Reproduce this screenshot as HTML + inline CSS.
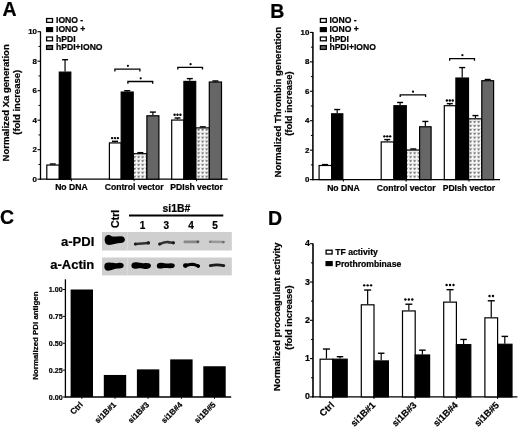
<!DOCTYPE html>
<html><head><meta charset="utf-8"><style>
html,body{margin:0;padding:0;background:#fff;}
svg{display:block;filter:blur(0.35px);}
text{font-family:"Liberation Sans", sans-serif;stroke:#000;stroke-width:0.22px;}
</style></head><body>
<svg width="520" height="430" viewBox="0 0 520 430" font-family='"Liberation Sans", sans-serif'>
<defs>
<pattern id="pat" x="0.7" y="-0.7" width="4" height="3.9" patternUnits="userSpaceOnUse">
<rect width="4" height="3.9" fill="#fff"/>
<path d="M0.9,0.7 L1.8,2.5 L2.9,0.6 M1.8,2.5 L1.8,3.1" fill="none" stroke="#444" stroke-width="0.9"/>
</pattern>
<filter id="bl" x="-20%" y="-50%" width="140%" height="200%"><feGaussianBlur stdDeviation="0.45"/></filter>
</defs>
<rect width="520" height="430" fill="#fff"/>
<text x="2.40" y="15.80" font-size="19.5" font-weight="bold" text-anchor="start">A</text>
<line x1="40.50" y1="31.40" x2="40.50" y2="179.80" stroke="#000" stroke-width="1.3"/>
<line x1="37.50" y1="179.20" x2="40.50" y2="179.20" stroke="#000" stroke-width="1.1"/>
<text x="37.00" y="181.70" font-size="7.9" font-weight="bold" text-anchor="end">0</text>
<line x1="38.50" y1="164.45" x2="40.50" y2="164.45" stroke="#000" stroke-width="1.0"/>
<line x1="37.50" y1="149.70" x2="40.50" y2="149.70" stroke="#000" stroke-width="1.1"/>
<text x="37.00" y="152.20" font-size="7.9" font-weight="bold" text-anchor="end">2</text>
<line x1="38.50" y1="134.95" x2="40.50" y2="134.95" stroke="#000" stroke-width="1.0"/>
<line x1="37.50" y1="120.20" x2="40.50" y2="120.20" stroke="#000" stroke-width="1.1"/>
<text x="37.00" y="122.70" font-size="7.9" font-weight="bold" text-anchor="end">4</text>
<line x1="38.50" y1="105.45" x2="40.50" y2="105.45" stroke="#000" stroke-width="1.0"/>
<line x1="37.50" y1="90.70" x2="40.50" y2="90.70" stroke="#000" stroke-width="1.1"/>
<text x="37.00" y="93.20" font-size="7.9" font-weight="bold" text-anchor="end">6</text>
<line x1="38.50" y1="75.95" x2="40.50" y2="75.95" stroke="#000" stroke-width="1.0"/>
<line x1="37.50" y1="61.20" x2="40.50" y2="61.20" stroke="#000" stroke-width="1.1"/>
<text x="37.00" y="63.70" font-size="7.9" font-weight="bold" text-anchor="end">8</text>
<line x1="38.50" y1="46.45" x2="40.50" y2="46.45" stroke="#000" stroke-width="1.0"/>
<line x1="37.50" y1="31.70" x2="40.50" y2="31.70" stroke="#000" stroke-width="1.1"/>
<text x="37.00" y="34.20" font-size="7.9" font-weight="bold" text-anchor="end">10</text>
<line x1="39.90" y1="179.20" x2="227.70" y2="179.20" stroke="#000" stroke-width="1.3"/>
<text x="8.70" y="102.85" font-size="9.55" font-weight="bold" text-anchor="middle" transform="rotate(-90 8.70 102.85)">Normalized Xa generation</text>
<text x="19.90" y="102.30" font-size="9.5" font-weight="bold" text-anchor="middle" transform="rotate(-90 19.90 102.30)">(fold increase)</text>
<rect x="46.60" y="18.55" width="5.90" height="3.80" fill="#fff" stroke="#000" stroke-width="1.3"/>
<text x="56.00" y="23.05" font-size="8.6" font-weight="bold" text-anchor="start">IONO -</text>
<rect x="46.60" y="27.70" width="5.90" height="3.80" fill="#000" stroke="#000" stroke-width="1.3"/>
<text x="56.00" y="32.20" font-size="8.6" font-weight="bold" text-anchor="start">IONO +</text>
<rect x="46.60" y="37.00" width="5.90" height="3.80" fill="#fff" stroke="#000" stroke-width="1.3"/>
<text x="56.00" y="41.50" font-size="8.6" font-weight="bold" text-anchor="start">hPDI</text>
<rect x="46.60" y="45.60" width="5.90" height="3.80" fill="#666" stroke="#000" stroke-width="1.3"/>
<text x="56.00" y="50.10" font-size="8.6" font-weight="bold" text-anchor="start">hPDI+IONO</text>
<line x1="52.75" y1="164.45" x2="52.75" y2="164.01" stroke="#000" stroke-width="1.2"/>
<line x1="49.75" y1="164.01" x2="55.75" y2="164.01" stroke="#000" stroke-width="1.4"/>
<rect x="46.80" y="165.05" width="12.50" height="14.15" fill="#fff" stroke="#000" stroke-width="1.2"/>
<line x1="65.05" y1="71.52" x2="65.05" y2="59.72" stroke="#000" stroke-width="1.2"/>
<line x1="62.05" y1="59.72" x2="68.05" y2="59.72" stroke="#000" stroke-width="1.4"/>
<rect x="59.30" y="72.12" width="11.50" height="107.08" fill="#000" stroke="#000" stroke-width="1.2"/>
<line x1="71.40" y1="179.20" x2="71.40" y2="181.20" stroke="#000" stroke-width="1.0"/>
<line x1="115.00" y1="142.32" x2="115.00" y2="141.29" stroke="#000" stroke-width="1.2"/>
<line x1="112.00" y1="141.29" x2="118.00" y2="141.29" stroke="#000" stroke-width="1.4"/>
<rect x="109.40" y="142.92" width="11.80" height="36.27" fill="#fff" stroke="#000" stroke-width="1.2"/>
<circle cx="112.10" cy="138.09" r="1.2" fill="#000"/>
<circle cx="115.00" cy="138.09" r="1.2" fill="#000"/>
<circle cx="117.90" cy="138.09" r="1.2" fill="#000"/>
<line x1="140.35" y1="153.09" x2="140.35" y2="152.65" stroke="#000" stroke-width="1.2"/>
<line x1="137.35" y1="152.65" x2="143.35" y2="152.65" stroke="#000" stroke-width="1.4"/>
<rect x="133.20" y="153.69" width="13.70" height="25.51" fill="url(#pat)" stroke="#000" stroke-width="1.2"/>
<line x1="152.90" y1="115.18" x2="152.90" y2="112.09" stroke="#000" stroke-width="1.2"/>
<line x1="149.90" y1="112.09" x2="155.90" y2="112.09" stroke="#000" stroke-width="1.4"/>
<rect x="146.90" y="115.78" width="12.00" height="63.41" fill="#666" stroke="#000" stroke-width="1.2"/>
<line x1="127.20" y1="91.44" x2="127.20" y2="90.70" stroke="#000" stroke-width="1.2"/>
<line x1="124.20" y1="90.70" x2="130.20" y2="90.70" stroke="#000" stroke-width="1.4"/>
<rect x="121.20" y="92.04" width="12.00" height="87.16" fill="#000" stroke="#000" stroke-width="1.2"/>
<line x1="134.15" y1="179.20" x2="134.15" y2="181.20" stroke="#000" stroke-width="1.0"/>
<line x1="177.50" y1="119.46" x2="177.50" y2="117.99" stroke="#000" stroke-width="1.2"/>
<line x1="174.50" y1="117.99" x2="180.50" y2="117.99" stroke="#000" stroke-width="1.4"/>
<rect x="171.70" y="120.06" width="12.20" height="59.14" fill="#fff" stroke="#000" stroke-width="1.2"/>
<circle cx="174.60" cy="114.79" r="1.2" fill="#000"/>
<circle cx="177.50" cy="114.79" r="1.2" fill="#000"/>
<circle cx="180.40" cy="114.79" r="1.2" fill="#000"/>
<line x1="202.80" y1="127.28" x2="202.80" y2="126.84" stroke="#000" stroke-width="1.2"/>
<line x1="199.80" y1="126.84" x2="205.80" y2="126.84" stroke="#000" stroke-width="1.4"/>
<rect x="195.70" y="127.88" width="13.60" height="51.32" fill="url(#pat)" stroke="#000" stroke-width="1.2"/>
<line x1="215.40" y1="81.41" x2="215.40" y2="80.96" stroke="#000" stroke-width="1.2"/>
<line x1="212.40" y1="80.96" x2="218.40" y2="80.96" stroke="#000" stroke-width="1.4"/>
<rect x="209.30" y="82.01" width="12.20" height="97.19" fill="#666" stroke="#000" stroke-width="1.2"/>
<line x1="189.80" y1="80.82" x2="189.80" y2="78.60" stroke="#000" stroke-width="1.2"/>
<line x1="186.80" y1="78.60" x2="192.80" y2="78.60" stroke="#000" stroke-width="1.4"/>
<rect x="183.90" y="81.42" width="11.80" height="97.78" fill="#000" stroke="#000" stroke-width="1.2"/>
<line x1="196.60" y1="179.20" x2="196.60" y2="181.20" stroke="#000" stroke-width="1.0"/>
<path d="M114.90,71.50 L114.90,69.10 L139.90,69.10 L139.90,71.50" fill="none" stroke="#000" stroke-width="1.3"/>
<circle cx="127.90" cy="65.80" r="1.1" fill="#000"/>
<path d="M127.90,83.70 L127.90,81.50 L152.70,81.50 L152.70,83.70" fill="none" stroke="#000" stroke-width="1.3"/>
<circle cx="140.70" cy="78.30" r="1.1" fill="#000"/>
<path d="M177.80,69.60 L177.80,67.40 L202.50,67.40 L202.50,69.60" fill="none" stroke="#000" stroke-width="1.3"/>
<circle cx="190.60" cy="64.20" r="1.1" fill="#000"/>
<text x="71.40" y="190.40" font-size="8.6" font-weight="bold" text-anchor="middle">No DNA</text>
<text x="134.15" y="190.40" font-size="8.6" font-weight="bold" text-anchor="middle">Control vector</text>
<text x="196.60" y="190.40" font-size="8.6" font-weight="bold" text-anchor="middle">PDIsh vector</text>
<text x="270.30" y="17.70" font-size="19.5" font-weight="bold" text-anchor="start">B</text>
<line x1="312.90" y1="32.10" x2="312.90" y2="180.20" stroke="#000" stroke-width="1.55"/>
<line x1="309.90" y1="179.60" x2="312.90" y2="179.60" stroke="#000" stroke-width="1.1"/>
<text x="309.40" y="182.10" font-size="7.9" font-weight="bold" text-anchor="end">0</text>
<line x1="310.90" y1="164.88" x2="312.90" y2="164.88" stroke="#000" stroke-width="1.0"/>
<line x1="309.90" y1="150.16" x2="312.90" y2="150.16" stroke="#000" stroke-width="1.1"/>
<text x="309.40" y="152.66" font-size="7.9" font-weight="bold" text-anchor="end">2</text>
<line x1="310.90" y1="135.44" x2="312.90" y2="135.44" stroke="#000" stroke-width="1.0"/>
<line x1="309.90" y1="120.72" x2="312.90" y2="120.72" stroke="#000" stroke-width="1.1"/>
<text x="309.40" y="123.22" font-size="7.9" font-weight="bold" text-anchor="end">4</text>
<line x1="310.90" y1="106.00" x2="312.90" y2="106.00" stroke="#000" stroke-width="1.0"/>
<line x1="309.90" y1="91.28" x2="312.90" y2="91.28" stroke="#000" stroke-width="1.1"/>
<text x="309.40" y="93.78" font-size="7.9" font-weight="bold" text-anchor="end">6</text>
<line x1="310.90" y1="76.56" x2="312.90" y2="76.56" stroke="#000" stroke-width="1.0"/>
<line x1="309.90" y1="61.84" x2="312.90" y2="61.84" stroke="#000" stroke-width="1.1"/>
<text x="309.40" y="64.34" font-size="7.9" font-weight="bold" text-anchor="end">8</text>
<line x1="310.90" y1="47.12" x2="312.90" y2="47.12" stroke="#000" stroke-width="1.0"/>
<line x1="309.90" y1="32.40" x2="312.90" y2="32.40" stroke="#000" stroke-width="1.1"/>
<text x="309.40" y="34.90" font-size="7.9" font-weight="bold" text-anchor="end">10</text>
<line x1="312.30" y1="179.60" x2="500.00" y2="179.60" stroke="#000" stroke-width="1.3"/>
<text x="281.00" y="102.20" font-size="9.62" font-weight="bold" text-anchor="middle" transform="rotate(-90 281.00 102.20)">Normalized Thrombin generation</text>
<text x="292.20" y="103.60" font-size="9.45" font-weight="bold" text-anchor="middle" transform="rotate(-90 292.20 103.60)">(fold increase)</text>
<rect x="320.40" y="18.55" width="5.90" height="3.80" fill="#fff" stroke="#000" stroke-width="1.3"/>
<text x="329.40" y="23.05" font-size="8.6" font-weight="bold" text-anchor="start">IONO -</text>
<rect x="320.40" y="27.70" width="5.90" height="3.80" fill="#000" stroke="#000" stroke-width="1.3"/>
<text x="329.40" y="32.20" font-size="8.6" font-weight="bold" text-anchor="start">IONO +</text>
<rect x="320.40" y="37.00" width="5.90" height="3.80" fill="#fff" stroke="#000" stroke-width="1.3"/>
<text x="329.40" y="41.50" font-size="8.6" font-weight="bold" text-anchor="start">hPDI</text>
<rect x="320.40" y="45.60" width="5.90" height="3.80" fill="#666" stroke="#000" stroke-width="1.3"/>
<text x="329.40" y="50.10" font-size="8.6" font-weight="bold" text-anchor="start">hPDI+IONO</text>
<line x1="325.05" y1="164.88" x2="325.05" y2="164.59" stroke="#000" stroke-width="1.2"/>
<line x1="322.05" y1="164.59" x2="328.05" y2="164.59" stroke="#000" stroke-width="1.4"/>
<rect x="319.10" y="165.48" width="12.50" height="14.12" fill="#fff" stroke="#000" stroke-width="1.2"/>
<line x1="337.20" y1="113.21" x2="337.20" y2="109.53" stroke="#000" stroke-width="1.2"/>
<line x1="334.20" y1="109.53" x2="340.20" y2="109.53" stroke="#000" stroke-width="1.4"/>
<rect x="331.60" y="113.81" width="11.20" height="65.79" fill="#000" stroke="#000" stroke-width="1.2"/>
<line x1="343.40" y1="179.60" x2="343.40" y2="181.60" stroke="#000" stroke-width="1.0"/>
<line x1="387.25" y1="141.33" x2="387.25" y2="139.56" stroke="#000" stroke-width="1.2"/>
<line x1="384.25" y1="139.56" x2="390.25" y2="139.56" stroke="#000" stroke-width="1.4"/>
<rect x="381.20" y="141.93" width="12.70" height="37.67" fill="#fff" stroke="#000" stroke-width="1.2"/>
<circle cx="384.35" cy="136.36" r="1.2" fill="#000"/>
<circle cx="387.25" cy="136.36" r="1.2" fill="#000"/>
<circle cx="390.15" cy="136.36" r="1.2" fill="#000"/>
<line x1="413.25" y1="149.42" x2="413.25" y2="148.98" stroke="#000" stroke-width="1.2"/>
<line x1="410.25" y1="148.98" x2="416.25" y2="148.98" stroke="#000" stroke-width="1.4"/>
<rect x="406.30" y="150.02" width="13.30" height="29.58" fill="url(#pat)" stroke="#000" stroke-width="1.2"/>
<line x1="425.35" y1="126.17" x2="425.35" y2="121.46" stroke="#000" stroke-width="1.2"/>
<line x1="422.35" y1="121.46" x2="428.35" y2="121.46" stroke="#000" stroke-width="1.4"/>
<rect x="419.60" y="126.77" width="11.50" height="52.83" fill="#666" stroke="#000" stroke-width="1.2"/>
<line x1="400.10" y1="105.12" x2="400.10" y2="102.47" stroke="#000" stroke-width="1.2"/>
<line x1="397.10" y1="102.47" x2="403.10" y2="102.47" stroke="#000" stroke-width="1.4"/>
<rect x="393.90" y="105.72" width="12.40" height="73.88" fill="#000" stroke="#000" stroke-width="1.2"/>
<line x1="406.15" y1="179.60" x2="406.15" y2="181.60" stroke="#000" stroke-width="1.0"/>
<line x1="449.80" y1="105.12" x2="449.80" y2="103.64" stroke="#000" stroke-width="1.2"/>
<line x1="446.80" y1="103.64" x2="452.80" y2="103.64" stroke="#000" stroke-width="1.4"/>
<rect x="444.30" y="105.72" width="11.60" height="73.88" fill="#fff" stroke="#000" stroke-width="1.2"/>
<circle cx="446.90" cy="100.44" r="1.2" fill="#000"/>
<circle cx="449.80" cy="100.44" r="1.2" fill="#000"/>
<circle cx="452.70" cy="100.44" r="1.2" fill="#000"/>
<line x1="475.45" y1="118.22" x2="475.45" y2="115.57" stroke="#000" stroke-width="1.2"/>
<line x1="472.45" y1="115.57" x2="478.45" y2="115.57" stroke="#000" stroke-width="1.4"/>
<rect x="468.50" y="118.82" width="13.30" height="60.78" fill="url(#pat)" stroke="#000" stroke-width="1.2"/>
<line x1="487.70" y1="80.09" x2="487.70" y2="79.50" stroke="#000" stroke-width="1.2"/>
<line x1="484.70" y1="79.50" x2="490.70" y2="79.50" stroke="#000" stroke-width="1.4"/>
<rect x="481.80" y="80.69" width="11.80" height="98.91" fill="#666" stroke="#000" stroke-width="1.2"/>
<line x1="462.20" y1="77.44" x2="462.20" y2="67.58" stroke="#000" stroke-width="1.2"/>
<line x1="459.20" y1="67.58" x2="465.20" y2="67.58" stroke="#000" stroke-width="1.4"/>
<rect x="455.90" y="78.04" width="12.60" height="101.56" fill="#000" stroke="#000" stroke-width="1.2"/>
<line x1="468.95" y1="179.60" x2="468.95" y2="181.60" stroke="#000" stroke-width="1.0"/>
<path d="M400.20,97.00 L400.20,94.90 L425.60,94.90 L425.60,97.00" fill="none" stroke="#000" stroke-width="1.3"/>
<circle cx="413.00" cy="91.70" r="1.1" fill="#000"/>
<path d="M449.70,60.80 L449.70,58.70 L474.50,58.70 L474.50,60.80" fill="none" stroke="#000" stroke-width="1.3"/>
<circle cx="462.40" cy="55.20" r="1.1" fill="#000"/>
<text x="343.40" y="190.60" font-size="8.6" font-weight="bold" text-anchor="middle">No DNA</text>
<text x="406.15" y="190.60" font-size="8.6" font-weight="bold" text-anchor="middle">Control vector</text>
<text x="468.95" y="190.60" font-size="8.6" font-weight="bold" text-anchor="middle">PDIsh vector</text>
<text x="0.00" y="224.30" font-size="19.5" font-weight="bold" text-anchor="start">C</text>
<text x="118.60" y="218.90" font-size="10.5" font-weight="bold" text-anchor="middle" transform="rotate(-90 118.60 218.90)">Ctrl</text>
<line x1="129.00" y1="215.50" x2="223.30" y2="215.50" stroke="#000" stroke-width="2.0"/>
<text x="176.40" y="212.00" font-size="10.4" font-weight="bold" text-anchor="middle">si1B#</text>
<text x="142.50" y="228.70" font-size="10.0" font-weight="bold" text-anchor="middle">1</text>
<text x="166.40" y="228.70" font-size="10.0" font-weight="bold" text-anchor="middle">3</text>
<text x="191.00" y="228.70" font-size="10.0" font-weight="bold" text-anchor="middle">4</text>
<text x="215.00" y="228.70" font-size="10.0" font-weight="bold" text-anchor="middle">5</text>
<text x="94.30" y="245.80" font-size="13.0" font-weight="bold" text-anchor="end">a-PDI</text>
<text x="94.30" y="268.60" font-size="13.0" font-weight="bold" text-anchor="end">a-Actin</text>
<rect x="102.00" y="232.00" width="129.80" height="18.50" fill="#cfcfcf"/>
<line x1="127.60" y1="232.00" x2="127.60" y2="250.50" stroke="#e2e2e2" stroke-width="0.7"/>
<rect x="102.00" y="257.50" width="129.80" height="17.90" fill="#cfcfcf"/>
<line x1="127.60" y1="257.50" x2="127.60" y2="275.40" stroke="#e2e2e2" stroke-width="0.7"/>
<g filter="url(#bl)">
<path d="M104.7,240.5 C104.5,236.5 106.5,234.8 108.8,234.9 C110.8,235.0 111.5,236.6 113.5,236.6 C116,236.6 118.5,236.0 121,236.2 C123.5,236.4 124.9,237.8 124.9,239.6 C124.9,241.8 123.5,242.9 120.5,243.1 C117,243.3 114,244.2 111,244.8 C107.5,245.4 104.9,244.2 104.7,240.5 Z" fill="#000"/>
<path d="M104.3,266.5 C104.3,263.3 106.5,262.4 109.5,262.6 C113,262.8 115,263.6 118,263 C121.5,262.3 123.7,263.5 123.7,265.5 C123.7,268 121.5,268.7 118,268.5 C115,268.3 113,270 109.5,270.6 C106,271.2 104.3,269.5 104.3,266.5 Z" fill="#000"/>
<path d="M131.4,265.6 C131.4,262.8 133.5,262.1 136.5,262.3 C139.5,262.5 141,263.4 144,263.2 C147.5,262.7 151,263 151,265.6 C151,268.3 148.5,269.1 145,268.9 C142,268.7 140.5,268 137.5,268.6 C134,269.2 131.4,268.8 131.4,265.6 Z" fill="#000"/>
<path d="M156.8,265.8 C156.8,263.2 158.8,262.5 161.5,262.7 C164.5,262.9 166,263.8 169,263.4 C172.5,262.9 174.8,263.5 174.8,265.6 C174.8,267.9 172.5,268.5 169.5,268.3 C166.5,268.1 165,267.8 162,268.4 C158.5,269 156.8,268.3 156.8,265.8 Z" fill="#000"/>
<path d="M185,265.6 C187.5,265.3 189,264.3 192,264.3 C195,264.4 196.5,265.6 198.3,266.1" fill="none" stroke="#000" stroke-width="3.0" stroke-linecap="round"/>
<circle cx="185.4" cy="265.6" r="2.4" fill="#000"/><circle cx="198.2" cy="266.1" r="1.8" fill="#000"/>
<path d="M210.3,265.6 C214,264.7 219,264.6 223.8,265.6" fill="none" stroke="#1a1a1a" stroke-width="2.8" stroke-linecap="round"/>
<path d="M135.3,244.0 C139,243.7 144,243.3 148.6,242.9" fill="none" stroke="#333" stroke-width="2.6" stroke-linecap="round"/>
<circle cx="135.4" cy="244.0" r="1.5" fill="#1a1a1a"/><circle cx="148.4" cy="242.9" r="1.6" fill="#1a1a1a"/>
<path d="M159.6,244.1 C163,242.6 165.5,241.8 168,242.1 C170.5,242.4 172,242.8 173.5,242.8" fill="none" stroke="#333" stroke-width="2.6" stroke-linecap="round"/>
<circle cx="159.7" cy="244.0" r="1.5" fill="#1a1a1a"/><circle cx="173.3" cy="242.8" r="1.6" fill="#1a1a1a"/>
<path d="M184.8,241.9 L198.2,241.8" fill="none" stroke="#888" stroke-width="2.7" stroke-linecap="round"/>
<circle cx="197.8" cy="241.8" r="1.4" fill="#555"/>
<path d="M210,241.8 L223.8,242.1" fill="none" stroke="#999" stroke-width="2.5" stroke-linecap="round"/>
<circle cx="223.2" cy="242.1" r="1.2" fill="#6a6a6a"/><circle cx="210.4" cy="241.8" r="1.1" fill="#7a7a7a"/>
</g>
<line x1="65.40" y1="279.30" x2="65.40" y2="397.60" stroke="#000" stroke-width="1.3"/>
<line x1="62.90" y1="397.00" x2="65.40" y2="397.00" stroke="#000" stroke-width="1.0"/>
<text x="62.60" y="399.50" font-size="7.1" font-weight="bold" text-anchor="end">0.00</text>
<line x1="62.90" y1="370.12" x2="65.40" y2="370.12" stroke="#000" stroke-width="1.0"/>
<text x="62.60" y="372.62" font-size="7.1" font-weight="bold" text-anchor="end">0.25</text>
<line x1="62.90" y1="343.25" x2="65.40" y2="343.25" stroke="#000" stroke-width="1.0"/>
<text x="62.60" y="345.75" font-size="7.1" font-weight="bold" text-anchor="end">0.50</text>
<line x1="62.90" y1="316.38" x2="65.40" y2="316.38" stroke="#000" stroke-width="1.0"/>
<text x="62.60" y="318.88" font-size="7.1" font-weight="bold" text-anchor="end">0.75</text>
<line x1="62.90" y1="289.50" x2="65.40" y2="289.50" stroke="#000" stroke-width="1.0"/>
<text x="62.60" y="292.00" font-size="7.1" font-weight="bold" text-anchor="end">1.00</text>
<line x1="64.80" y1="397.00" x2="231.20" y2="397.00" stroke="#000" stroke-width="1.3"/>
<text x="37.90" y="335.60" font-size="7.9" font-weight="bold" text-anchor="middle" transform="rotate(-90 37.90 335.60)">Normalized PDI antigen</text>
<rect x="70.60" y="289.50" width="22.40" height="107.50" fill="#000"/>
<line x1="81.80" y1="397.00" x2="81.80" y2="398.80" stroke="#000" stroke-width="1.0"/>
<text x="83.40" y="405.20" font-size="8.1" font-weight="bold" text-anchor="end" transform="rotate(-45 83.40 405.20)">Ctrl</text>
<rect x="103.80" y="374.96" width="22.40" height="22.04" fill="#000"/>
<line x1="115.00" y1="397.00" x2="115.00" y2="398.80" stroke="#000" stroke-width="1.0"/>
<text x="116.60" y="405.20" font-size="8.1" font-weight="bold" text-anchor="end" transform="rotate(-45 116.60 405.20)">si1B#1</text>
<rect x="136.90" y="369.37" width="22.40" height="27.63" fill="#000"/>
<line x1="148.10" y1="397.00" x2="148.10" y2="398.80" stroke="#000" stroke-width="1.0"/>
<text x="149.70" y="405.20" font-size="8.1" font-weight="bold" text-anchor="end" transform="rotate(-45 149.70 405.20)">si1B#3</text>
<rect x="170.20" y="359.38" width="22.40" height="37.62" fill="#000"/>
<line x1="181.40" y1="397.00" x2="181.40" y2="398.80" stroke="#000" stroke-width="1.0"/>
<text x="183.00" y="405.20" font-size="8.1" font-weight="bold" text-anchor="end" transform="rotate(-45 183.00 405.20)">si1B#4</text>
<rect x="203.30" y="366.25" width="22.40" height="30.75" fill="#000"/>
<line x1="214.50" y1="397.00" x2="214.50" y2="398.80" stroke="#000" stroke-width="1.0"/>
<text x="216.10" y="405.20" font-size="8.1" font-weight="bold" text-anchor="end" transform="rotate(-45 216.10 405.20)">si1B#5</text>
<text x="268.00" y="225.30" font-size="19.5" font-weight="bold" text-anchor="start">D</text>
<line x1="313.00" y1="243.40" x2="313.00" y2="397.50" stroke="#000" stroke-width="1.6"/>
<line x1="310.00" y1="396.90" x2="313.00" y2="396.90" stroke="#000" stroke-width="1.1"/>
<text x="310.00" y="399.40" font-size="8.8" font-weight="bold" text-anchor="end">0</text>
<line x1="311.00" y1="377.75" x2="313.00" y2="377.75" stroke="#000" stroke-width="1.0"/>
<line x1="310.00" y1="358.60" x2="313.00" y2="358.60" stroke="#000" stroke-width="1.1"/>
<text x="310.00" y="361.10" font-size="8.8" font-weight="bold" text-anchor="end">1</text>
<line x1="311.00" y1="339.45" x2="313.00" y2="339.45" stroke="#000" stroke-width="1.0"/>
<line x1="310.00" y1="320.30" x2="313.00" y2="320.30" stroke="#000" stroke-width="1.1"/>
<text x="310.00" y="322.80" font-size="8.8" font-weight="bold" text-anchor="end">2</text>
<line x1="311.00" y1="301.15" x2="313.00" y2="301.15" stroke="#000" stroke-width="1.0"/>
<line x1="310.00" y1="282.00" x2="313.00" y2="282.00" stroke="#000" stroke-width="1.1"/>
<text x="310.00" y="284.50" font-size="8.8" font-weight="bold" text-anchor="end">3</text>
<line x1="311.00" y1="262.85" x2="313.00" y2="262.85" stroke="#000" stroke-width="1.0"/>
<line x1="310.00" y1="243.70" x2="313.00" y2="243.70" stroke="#000" stroke-width="1.1"/>
<text x="310.00" y="246.20" font-size="8.8" font-weight="bold" text-anchor="end">4</text>
<line x1="312.40" y1="396.90" x2="517.40" y2="396.90" stroke="#000" stroke-width="1.3"/>
<text x="280.50" y="316.70" font-size="9.45" font-weight="bold" text-anchor="middle" transform="rotate(-90 280.50 316.70)">Normalized procoagulant activity</text>
<text x="292.00" y="317.50" font-size="9.45" font-weight="bold" text-anchor="middle" transform="rotate(-90 292.00 317.50)">(fold increase)</text>
<rect x="326.10" y="250.20" width="6.00" height="3.80" fill="#fff" stroke="#000" stroke-width="1.3"/>
<text x="335.30" y="255.00" font-size="8.6" font-weight="bold" text-anchor="start">TF activity</text>
<rect x="326.10" y="261.70" width="6.00" height="3.80" fill="#000" stroke="#000" stroke-width="1.3"/>
<text x="335.30" y="266.50" font-size="8.6" font-weight="bold" text-anchor="start">Prothrombinase</text>
<line x1="326.45" y1="358.60" x2="326.45" y2="349.02" stroke="#000" stroke-width="1.2"/>
<line x1="322.95" y1="349.02" x2="329.95" y2="349.02" stroke="#000" stroke-width="1.4"/>
<rect x="320.10" y="359.20" width="12.70" height="37.70" fill="#fff" stroke="#000" stroke-width="1.2"/>
<line x1="340.00" y1="358.60" x2="340.00" y2="356.69" stroke="#000" stroke-width="1.2"/>
<line x1="336.75" y1="356.69" x2="343.25" y2="356.69" stroke="#000" stroke-width="1.4"/>
<rect x="332.80" y="359.20" width="14.40" height="37.70" fill="#000" stroke="#000" stroke-width="1.2"/>
<line x1="332.80" y1="396.90" x2="332.80" y2="398.90" stroke="#000" stroke-width="1.0"/>
<text x="334.80" y="405.70" font-size="9.4" font-weight="bold" text-anchor="end" transform="rotate(-45 334.80 405.70)">Ctrl</text>
<line x1="367.65" y1="304.21" x2="367.65" y2="290.04" stroke="#000" stroke-width="1.2"/>
<line x1="364.15" y1="290.04" x2="371.15" y2="290.04" stroke="#000" stroke-width="1.4"/>
<rect x="361.30" y="304.81" width="12.70" height="92.09" fill="#fff" stroke="#000" stroke-width="1.2"/>
<circle cx="364.20" cy="285.34" r="1.2" fill="#000"/>
<circle cx="367.65" cy="285.34" r="1.2" fill="#000"/>
<circle cx="371.10" cy="285.34" r="1.2" fill="#000"/>
<line x1="381.20" y1="360.32" x2="381.20" y2="353.24" stroke="#000" stroke-width="1.2"/>
<line x1="377.95" y1="353.24" x2="384.45" y2="353.24" stroke="#000" stroke-width="1.4"/>
<rect x="374.00" y="360.92" width="14.40" height="35.98" fill="#000" stroke="#000" stroke-width="1.2"/>
<line x1="374.00" y1="396.90" x2="374.00" y2="398.90" stroke="#000" stroke-width="1.0"/>
<text x="376.00" y="405.70" font-size="9.4" font-weight="bold" text-anchor="end" transform="rotate(-45 376.00 405.70)">si1B#1</text>
<line x1="408.85" y1="310.34" x2="408.85" y2="304.21" stroke="#000" stroke-width="1.2"/>
<line x1="405.35" y1="304.21" x2="412.35" y2="304.21" stroke="#000" stroke-width="1.4"/>
<rect x="402.50" y="310.94" width="12.70" height="85.96" fill="#fff" stroke="#000" stroke-width="1.2"/>
<circle cx="405.40" cy="299.51" r="1.2" fill="#000"/>
<circle cx="408.85" cy="299.51" r="1.2" fill="#000"/>
<circle cx="412.30" cy="299.51" r="1.2" fill="#000"/>
<line x1="422.40" y1="354.39" x2="422.40" y2="350.17" stroke="#000" stroke-width="1.2"/>
<line x1="419.15" y1="350.17" x2="425.65" y2="350.17" stroke="#000" stroke-width="1.4"/>
<rect x="415.20" y="354.99" width="14.40" height="41.91" fill="#000" stroke="#000" stroke-width="1.2"/>
<line x1="415.20" y1="396.90" x2="415.20" y2="398.90" stroke="#000" stroke-width="1.0"/>
<text x="417.20" y="405.70" font-size="9.4" font-weight="bold" text-anchor="end" transform="rotate(-45 417.20 405.70)">si1B#3</text>
<line x1="450.05" y1="301.53" x2="450.05" y2="289.66" stroke="#000" stroke-width="1.2"/>
<line x1="446.55" y1="289.66" x2="453.55" y2="289.66" stroke="#000" stroke-width="1.4"/>
<rect x="443.70" y="302.13" width="12.70" height="94.77" fill="#fff" stroke="#000" stroke-width="1.2"/>
<circle cx="446.60" cy="284.96" r="1.2" fill="#000"/>
<circle cx="450.05" cy="284.96" r="1.2" fill="#000"/>
<circle cx="453.50" cy="284.96" r="1.2" fill="#000"/>
<line x1="463.60" y1="344.05" x2="463.60" y2="339.45" stroke="#000" stroke-width="1.2"/>
<line x1="460.35" y1="339.45" x2="466.85" y2="339.45" stroke="#000" stroke-width="1.4"/>
<rect x="456.40" y="344.65" width="14.40" height="52.25" fill="#000" stroke="#000" stroke-width="1.2"/>
<line x1="456.40" y1="396.90" x2="456.40" y2="398.90" stroke="#000" stroke-width="1.0"/>
<text x="458.40" y="405.70" font-size="9.4" font-weight="bold" text-anchor="end" transform="rotate(-45 458.40 405.70)">si1B#4</text>
<line x1="491.25" y1="317.24" x2="491.25" y2="300.77" stroke="#000" stroke-width="1.2"/>
<line x1="487.75" y1="300.77" x2="494.75" y2="300.77" stroke="#000" stroke-width="1.4"/>
<rect x="484.90" y="317.84" width="12.70" height="79.06" fill="#fff" stroke="#000" stroke-width="1.2"/>
<circle cx="489.53" cy="296.07" r="1.2" fill="#000"/>
<circle cx="492.98" cy="296.07" r="1.2" fill="#000"/>
<line x1="504.80" y1="343.66" x2="504.80" y2="336.39" stroke="#000" stroke-width="1.2"/>
<line x1="501.55" y1="336.39" x2="508.05" y2="336.39" stroke="#000" stroke-width="1.4"/>
<rect x="497.60" y="344.26" width="14.40" height="52.64" fill="#000" stroke="#000" stroke-width="1.2"/>
<line x1="497.60" y1="396.90" x2="497.60" y2="398.90" stroke="#000" stroke-width="1.0"/>
<text x="499.60" y="405.70" font-size="9.4" font-weight="bold" text-anchor="end" transform="rotate(-45 499.60 405.70)">si1B#5</text>
</svg>
</body></html>
